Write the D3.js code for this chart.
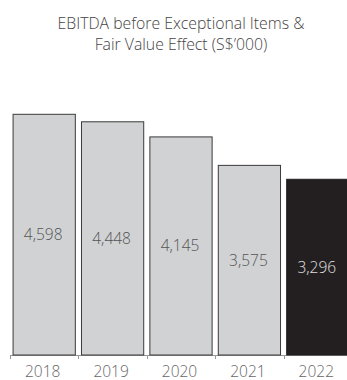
<!DOCTYPE html>
<html><head><meta charset="utf-8">
<script src="https://cdn.jsdelivr.net/npm/d3@7"></script>
<style>body{margin:0;background:#fff}svg{display:block}</style>
</head><body>
<svg id="c" width="347" height="380"></svg>
<script>
const years = ["2018","2019","2020","2021","2022"];
const values = [4598, 4448, 4145, 3575, 3296];
const labels = ["4,598","4,448","4,145","3,575","3,296"];
const titleLines = ["EBITDA before Exceptional Items &", "Fair Value Effect (S$\u2019000)"];

const svg = d3.select("#c");
const font = "'Open Sans', sans-serif";
const base = 355;
const x = d3.scaleBand().domain(years).range([10, 352]).paddingInner(0.09).paddingOuter(0.045);
const y = d3.scaleLinear().domain([-224, 4598]).range([base, 114.3]);
const step = x.step();
const x0 = 10;

svg.append("g").selectAll("text").data(titleLines).join("text")
  .attr("x", 181).attr("y", (d,i) => 29 + i*20.5)
  .attr("text-anchor","middle").attr("font-family",font).attr("font-size",15.8)
  .attr("font-weight",350)
  .attr("fill","#444").text(d=>d);

// axis
svg.append("line").attr("x1",x0).attr("x2",347).attr("y1",base+0.5).attr("y2",base+0.5)
  .attr("stroke","#999").attr("stroke-width",1);
svg.append("g").selectAll("line").data(years).join("line")
  .attr("x1",(d,i)=>Math.round(x0 + i*step)+0.5).attr("x2",(d,i)=>Math.round(x0 + i*step)+0.5)
  .attr("y1",base).attr("y2",base+4).attr("stroke","#999");

svg.append("g").selectAll("rect").data(years).join("rect")
  .attr("x", d=>x(d)).attr("width", x.bandwidth())
  .attr("y", (d,i)=>y(values[i])).attr("height",(d,i)=>base - y(values[i]))
  .attr("fill",(d,i)=> i===4 ? "#231f20" : "#d1d2d4")
  .attr("stroke",(d,i)=> i===4 ? "#231f20" : "#3a3a3a").attr("stroke-width",1);

svg.append("g").selectAll("text").data(years).join("text")
  .attr("x", d=>x(d)+x.bandwidth()/2 - 1)
  .attr("y", (d,i)=> (y(values[i])+base)/2)
  .attr("dy","0.35em")
  .attr("text-anchor","middle").attr("font-family",font).attr("font-size",15.5)
  .attr("font-weight",300)
  .attr("fill",(d,i)=> i===4 ? "#e0e0e0" : "#555").text((d,i)=>labels[i]);

svg.append("g").selectAll("text").data(years).join("text")
  .attr("x", d=>x(d)+x.bandwidth()/2 - 1.5).attr("y", 376.5)
  .attr("text-anchor","middle").attr("font-family",font).attr("font-size",15.5)
  .attr("font-weight",300)
  .attr("fill","#666").text(d=>d);
</script>
</body></html>
